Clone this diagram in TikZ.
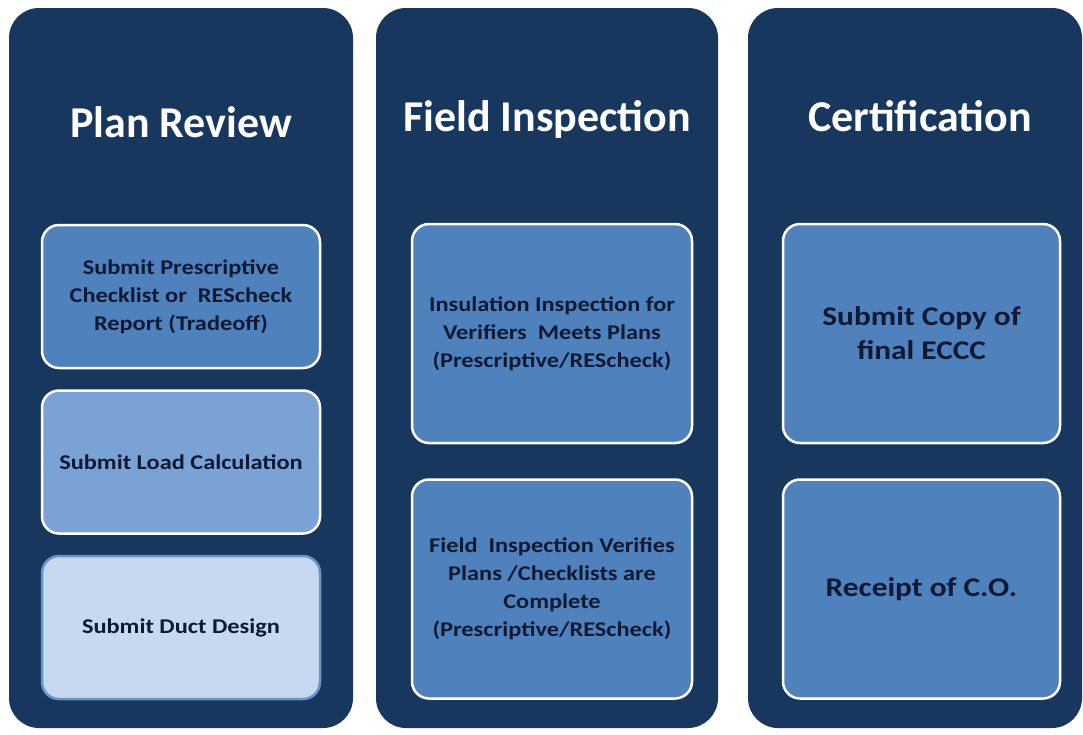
\documentclass[tikz,border=0pt]{standalone}
\usepackage{fontspec}
\setmainfont{Carlito}
\newfontfamily\boxfont{Carlito}[FakeStretch=1.16]
\usetikzlibrary{positioning}

\definecolor{navy}{HTML}{17375E}
\definecolor{midblue}{HTML}{4F81BD}
\definecolor{softblue}{HTML}{7BA2D4}
\definecolor{paleblue}{HTML}{C6D9F0}
\definecolor{ink}{HTML}{0E1A33}

\begin{document}
\begin{tikzpicture}[
  x=1pt, y=-1pt,
  col/.style={fill=navy, rounded corners=30pt, minimum height=720pt, inner sep=0pt},
  hd/.style={text=white, anchor=base, font=\bfseries\fontsize{44}{50}\selectfont},
  bx/.style={draw=white, line width=2.5pt, rounded corners=17pt, fill=midblue, text=ink,
             align=center, inner sep=0pt, font=\boxfont\bfseries\fontsize{21}{28}\selectfont},
  big/.style={font=\boxfont\bfseries\fontsize{27}{34}\selectfont},
  tall/.style={minimum width=280pt, minimum height=219pt},
  wide/.style={minimum width=278pt, minimum height=143pt}
]
\useasboundingbox[fill=white] (0,0) rectangle (1083,734);

% the three stage columns
\node[col, minimum width=344pt] (plan) at (181,368) {};
\node[col, minimum width=342pt] (field) at (547,368) {};
\node[col, minimum width=334pt] (cert) at (915,368) {};

\node[hd] (planhd) at (181,137) {Plan Review};
\node[hd] (fieldhd) at (547,131) {Field Inspection};
\node[hd] (certhd) at (920,131) {Certification};

% plan review steps
\node[bx, wide] (presc) at (181,296.5) {Submit Prescriptive\\Checklist or~ REScheck\\Report (Tradeoff)};
\node[bx, wide, fill=softblue, below=20pt of presc] (load) {Submit Load Calculation};
\node[bx, wide, fill=paleblue, draw=midblue!85!white, below=20pt of load] (duct) {Submit Duct Design};

% field inspection steps
\node[bx, tall] (insul) at (552,333.5) {Insulation Inspection for\\Verifiers~ Meets Plans\\(Prescriptive/REScheck)};
\node[bx, tall, below=34pt of insul] (verify) {Field~ Inspection Verifies\\Plans /Checklists are\\Complete\\(Prescriptive/REScheck)};

% certification steps
\node[bx, tall, big, minimum width=277pt] (eccc) at (921.5,333.5) {Submit Copy of\\final ECCC};
\node[bx, tall, big, minimum width=277pt, below=34pt of eccc] (co) {Receipt of C.O.};
\end{tikzpicture}
\end{document}
